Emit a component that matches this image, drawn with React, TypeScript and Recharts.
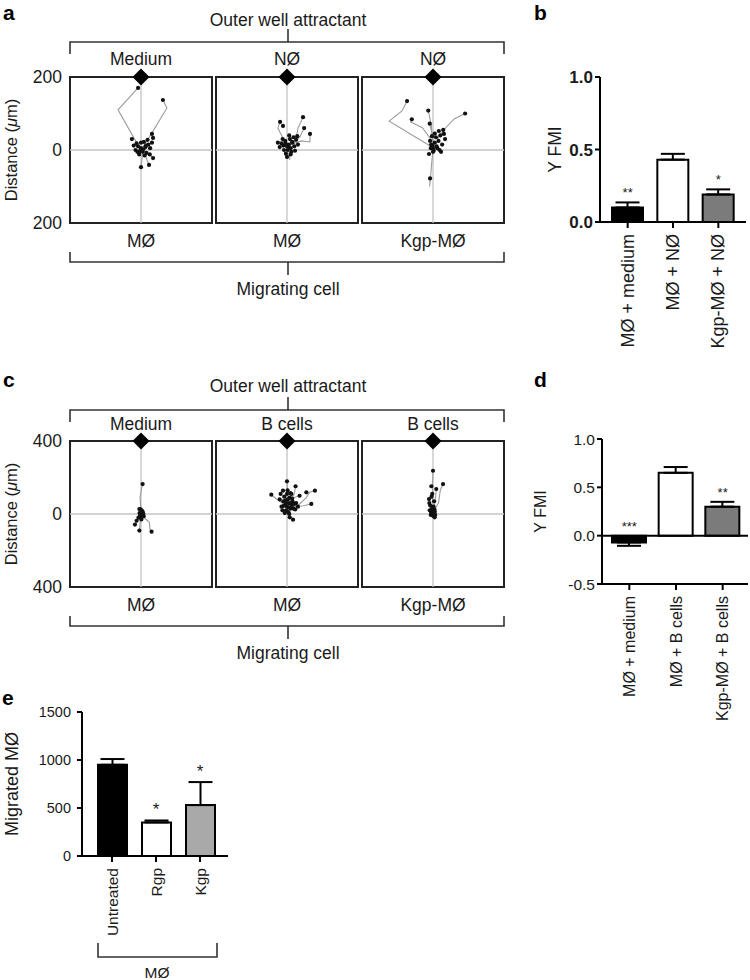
import React from "react";
import {
  ScatterChart, Scatter, ComposedChart, Bar, ErrorBar, Cell,
  XAxis, YAxis, ReferenceLine, ReferenceArea, ReferenceDot,
} from "recharts";

const FONT = '"Liberation Sans", Arial, Helvetica, sans-serif';
const INK = "#1a1a1a";

type Pt = [number, number];

// ---------- track data (µm), panel a: distance scale 200 ----------
const A1_TRACKS: Pt[][] = [
  [[0, 0], [-16, 27], [-63, 110], [-8, 170]],
  [[0, 0], [30, 47], [71, 115], [60, 137]],
  [[5, -5], [0, -47]],
  [[10, -10], [22, -41]],
  [[15, -5], [33, -22]],
];
const A1_DOTS: Pt[] = [
  [-8, 170], [60, 137], [0, 5], [-8, 10], [5, -5], [12, 8], [-15, 0], [20, 15], [8, 22], [-5, -12],
  [15, -8], [25, 5], [-20, 12], [0, 20], [10, -15], [-10, -5], [30, 20], [18, 28], [-25, 30], [33, 33],
  [30, 44], [0, -47], [22, -41], [33, -22], [-3, -3], [6, 2], [-12, 18], [24, -12], [14, 12],
];
const A2_TRACKS: Pt[][] = [
  [[0, 10], [25, 30], [30, 60], [44, 90]],
  [[0, 10], [-10, 30], [-25, 60], [-19, 77]],
  [[5, 10], [35, 35], [47, 60]],
  [[10, 15], [40, 25], [63, 22], [63, 44]],
  [[4, 5], [8, -27]],
];
const A2_DOTS: Pt[] = [
  [44, 90], [-19, 77], [47, 60], [63, 44], [-11, 66], [0, 10], [5, 15], [-10, 12], [10, 5], [15, 20],
  [-5, 25], [20, 10], [-15, 18], [8, 30], [25, 28], [-20, 8], [2, 0], [12, -5], [-8, 0], [18, 35],
  [30, 15], [-3, -10], [0, -19], [22, -2], [-12, 30], [6, 40], [28, 38], [-25, 20], [14, 22], [4, 8],
  [-4, 18], [10, -12],
];
const A3_TRACKS: Pt[][] = [
  [[-3, 8], [-120, 79], [-85, 107], [-71, 134]],
  [[1, 20], [-29, 61], [-61, 77], [-58, 84]],
  [[11, 30], [35, 61], [58, 85], [88, 100]],
  [[0, 20], [-5, 70], [-13, 108]],
  [[0, 0], [-4, -40], [-9, -100], [-8, -78]],
  [[5, 10], [-9, 72]],
];
const A3_DOTS: Pt[] = [
  [-71, 134], [-58, 84], [88, 100], [-13, 108], [-9, 72], [-8, -78], [-11, -11], [22, -5], [16, 52],
  [30, 44], [33, 30], [-3, 38], [5, 20], [10, 10], [0, 5], [-5, 15], [15, 25], [20, 40], [25, 15],
  [8, 35], [-8, 25], [12, 5], [0, -5], [18, 0], [5, 45], [28, 55], [-6, 5], [2, -2], [-2, 12],
];

// ---------- panel c: distance scale 400 ----------
const C1_TRACKS: Pt[][] = [
  [[0, 10], [-5, 91], [5, 150], [9, 164]],
  [[13, -18], [46, -46], [49, -82], [58, -97]],
  [[0, 0], [-20, -30], [-33, -58]],
  [[0, -5], [-9, -91]],
];
const C1_DOTS: Pt[] = [
  [9, 164], [58, -97], [-33, -58], [-9, -91], [-24, -37], [0, 0], [5, 10], [-8, 5], [10, -5], [3, 20],
  [-5, -10], [8, 15], [12, 3], [-2, 25], [6, -15], [-9, 27], [-14, -20], [2, -30], [15, -12],
];
const C2_TRACKS: Pt[][] = [
  [[20, 30], [69, 55], [106, 90], [124, 119], [153, 128]],
  [[0, 40], [-40, 70], [-80, 100], [-86, 106]],
  [[30, 40], [90, 45], [133, 55]],
  [[10, 50], [40, 90], [69, 100]],
  [[0, 60], [2, 130], [0, 179]],
  [[15, 60], [40, 110], [47, 152]],
];
const C2_DOTS: Pt[] = [
  [153, 128], [-86, 106], [133, 55], [69, 100], [0, 179], [47, 152], [106, 119], [-22, 128], [24, 110],
  [15, -18], [33, -31], [0, 40], [10, 60], [-10, 50], [20, 30], [-20, 70], [5, 80], [30, 70], [-30, 40],
  [15, 90], [-5, 20], [25, 45], [40, 55], [-15, 95], [8, 10], [-8, 75], [35, 30], [50, 60], [18, 115],
  [-40, 80], [0, 110], [28, 85], [-25, 20], [45, 25], [12, 0], [-12, 5], [60, 40], [3, 130], [-35, 110],
  [10, 35], [-5, 60], [22, 55], [-18, 45],
];
const C3_TRACKS: Pt[][] = [
  [[0, 20], [-3, 150], [0, 237]],
  [[5, 20], [30, 60], [40, 130], [55, 164]],
  [[0, 15], [12, 70], [18, 137]],
];
const C3_DOTS: Pt[] = [
  [0, 237], [55, 164], [-9, 152], [18, 137], [-4, 110], [-22, 82], [-15, 46], [0, 18], [-18, 20], [5, 5],
  [-10, 10], [8, 25], [0, -10], [9, -18], [-5, 30], [10, 12], [-12, -5], [3, 40], [-20, 60], [6, 70],
  [-8, 95], [12, -5], [-3, 0],
];

const A_ATTRACT = ["Medium", "NØ", "NØ"];
const C_ATTRACT = ["Medium", "B cells", "B cells"];
const CELLS = ["MØ", "MØ", "Kgp-MØ"];

// ---------- bar data ----------
const B_GROUPS = ["MØ + medium", "MØ + NØ", "Kgp-MØ + NØ"];
const B_FMI = [0.1, 0.43, 0.19];
const B_SEM = [0.035, 0.04, 0.035];
const B_SIG = ["**", "", "*"];

const D_GROUPS = ["MØ + medium", "MØ + B cells", "Kgp-MØ + B cells"];
const D_FMI = [-0.07, 0.65, 0.3];
const D_SEM = [0.035, 0.06, 0.05];
const D_SIG = ["***", "", "**"];

const E_GROUPS = ["Untreated", "Rgp", "Kgp"];
const E_MIGRATED = [950, 350, 530];
const E_SEM = [60, 20, 240];
const E_SIG = ["", "*", "*"];

const FILL_BD = ["#000000", "#ffffff", "#7b7b7b"];
const FILL_E = ["#000000", "#ffffff", "#a9a9a9"];

const toXY = (pts: Pt[]) => pts.map(([x, y]) => ({ x, y }));

const BOX_W = 142;
const BOX_H = 146;
const BOX_LEFT = [70, 216, 362];
const ANNOT = 17.5;

function diamond(props: any) {
  const { cx, cy } = props;
  const r = 8.5;
  return <polygon points={`${cx},${cy - r} ${cx + r},${cy} ${cx},${cy + r} ${cx - r},${cy}`} fill="#000" />;
}

function endDot(props: any) {
  return <circle cx={props.cx} cy={props.cy} r={2.1} fill="#111" />;
}

function distanceLabel(props: any) {
  const vb = props.viewBox;
  const cx = vb.x + 11;
  const cy = vb.y + vb.height / 2;
  return (
    <text x={cx} y={cy} transform={`rotate(-90 ${cx} ${cy})`} textAnchor="middle" dominantBaseline="central"
      fontSize={16.5} fontFamily={FONT} fill={INK}>
      Distance (<tspan fontStyle="italic">μ</tspan>m)
    </text>
  );
}

function TrackBox({ tracks, dots, yMax, left, top, axis }: {
  tracks: Pt[][]; dots: Pt[]; yMax: number; left: number; top: number; axis: boolean;
}) {
  const axisW = axis ? 70 : 0;
  const margin = { top: 12, right: 2, bottom: 12, left: axis ? 0 : 2 };
  const xMax = (yMax * BOX_W) / BOX_H;
  return (
    <div style={{ position: "absolute", left: left - axisW - margin.left, top: top - margin.top }}>
      <ScatterChart width={axisW + BOX_W + margin.left + margin.right} height={BOX_H + margin.top + margin.bottom} margin={margin}>
        <XAxis type="number" dataKey="x" domain={[-xMax, xMax]} hide allowDataOverflow />
        <YAxis type="number" dataKey="y" domain={[-yMax, yMax]} hide={!axis} width={70} allowDataOverflow
          ticks={[-yMax, 0, yMax]} interval={0} tickFormatter={(v: number) => String(Math.abs(v))}
          axisLine={false} tickLine={false} tick={{ fontSize: ANNOT, fill: INK, fontFamily: FONT }}
          label={axis ? distanceLabel : undefined} />
        <ReferenceLine x={0} stroke="#c4c4c4" strokeWidth={1.3} />
        <ReferenceLine y={0} stroke="#c4c4c4" strokeWidth={1.3} />
        {tracks.map((t, i) => (
          <Scatter key={i} data={toXY(t)} line={{ stroke: "#9c9c9c", strokeWidth: 1.1 }} lineType="joint"
            shape={() => <g />} isAnimationActive={false} />
        ))}
        <Scatter data={toXY(dots)} shape={endDot} isAnimationActive={false} />
        <ReferenceArea x1={-xMax} x2={xMax} y1={-yMax} y2={yMax} fill="none" fillOpacity={0} stroke="#222" strokeWidth={2} ifOverflow="visible" />
        <ReferenceDot x={0} y={yMax} r={8} shape={diamond} ifOverflow="visible" />
      </ScatterChart>
    </div>
  );
}

function rotTick(fontSize: number) {
  return (props: any) => {
    const { x, y, payload } = props;
    const ty = y + 4;
    return (
      <text x={x} y={ty} transform={`rotate(-90 ${x} ${ty})`} textAnchor="end" dominantBaseline="central"
        fontSize={fontSize} fontFamily={FONT} fill={INK}>
        {payload.value}
      </text>
    );
  };
}

function yLabel(text: React.ReactNode, dx: number, fontSize: number) {
  return (props: any) => {
    const vb = props.viewBox;
    const cx = vb.x + dx;
    const cy = vb.y + vb.height / 2;
    return (
      <text x={cx} y={cy} transform={`rotate(-90 ${cx} ${cy})`} textAnchor="middle" dominantBaseline="central"
        fontSize={fontSize} fontFamily={FONT} fill={INK}>
        {text}
      </text>
    );
  };
}

function starShape(fontSize: number) {
  return (props: any) => (
    <text x={props.cx} y={props.cy - 5} textAnchor="middle" fontSize={fontSize} fontFamily={FONT} fill={INK}>
      {props.payload.sig}
    </text>
  );
}

function BarPanel({
  left, top, axisW, plotW, height, plotH, groups, values, sems, sigs, fills, domain, ticks, fmt,
  tickFont, boldTicks, tickMargin, catFont, label, labelDx, labelFont, padding, barSize, zero, starFont,
}: any) {
  const rows = groups.map((name: string, i: number) => {
    const v = values[i];
    const s = sems[i];
    return {
      name,
      v,
      err: v < 0 ? [s, 0] : [0, s],
      starY: Math.max(0, v < 0 ? 0 : v + s),
      sig: sigs[i],
    };
  });
  const margin = { top: 10, right: 2, bottom: 0, left: 0 };
  return (
    <div style={{ position: "absolute", left: left - axisW, top: top - margin.top }}>
      <ComposedChart width={axisW + plotW + margin.right} height={height} data={rows} margin={margin}>
        <XAxis dataKey="name" type="category" interval={0} padding={padding} tick={rotTick(catFont)}
          height={height - margin.top - plotH} tickSize={6}
          axisLine={{ stroke: "#000", strokeWidth: 2 }} tickLine={{ stroke: "#000", strokeWidth: 2 }} />
        <YAxis type="number" domain={domain} ticks={ticks} interval={0} width={axisW} tickFormatter={fmt}
          tickSize={5} tickMargin={tickMargin}
          axisLine={{ stroke: "#000", strokeWidth: 2 }} tickLine={{ stroke: "#000", strokeWidth: 2 }}
          tick={{ fontSize: tickFont, fill: INK, fontFamily: FONT, fontWeight: boldTicks ? "bold" : "normal" }}
          label={yLabel(label, labelDx, labelFont)} />
        {zero ? <ReferenceLine y={0} stroke="#000" strokeWidth={2} /> : null}
        <Bar dataKey="v" barSize={barSize} stroke="#000" strokeWidth={2} isAnimationActive={false}>
          {rows.map((_: any, i: number) => (
            <Cell key={i} fill={fills[i]} />
          ))}
          <ErrorBar dataKey="err" width={12} stroke="#000" strokeWidth={2} />
        </Bar>
        <Scatter dataKey="starY" shape={starShape(starFont)} isAnimationActive={false} />
      </ComposedChart>
    </div>
  );
}

function Bracket({ x1, x2, y, end, tickTo }: { x1: number; x2: number; y: number; end: number; tickTo: number }) {
  const xc = (x1 + x2) / 2 + 1;
  return (
    <g stroke="#333" strokeWidth={1.6} fill="none">
      <path d={`M${x1} ${end} V${y} H${x2} V${end}`} />
      <path d={`M${xc} ${y} V${tickTo}`} />
    </g>
  );
}

function TrackAnnotations({ attract, head, topB, condY, cellY, botB, migY }: any) {
  return (
    <g fontFamily={FONT} fontSize={ANNOT} fill={INK} textAnchor="middle">
      <text x={288} y={head}>Outer well attractant</text>
      <Bracket x1={70} x2={504} y={topB} end={topB + 12} tickTo={topB - 13} />
      {attract.map((t: string, i: number) => (
        <text key={"a" + i} x={BOX_LEFT[i] + BOX_W / 2} y={condY}>{t}</text>
      ))}
      {CELLS.map((t: string, i: number) => (
        <text key={"c" + i} x={BOX_LEFT[i] + BOX_W / 2} y={cellY}>{t}</text>
      ))}
      <Bracket x1={70} x2={504} y={botB} end={botB - 10} tickTo={botB + 13} />
      <text x={288} y={migY}>Migrating cell</text>
    </g>
  );
}

export default function App() {
  const aTop = 77;
  const cTop = 441;
  return (
    <div style={{ position: "absolute", left: 0, top: 0, width: 750, height: 980, background: "#fff", fontFamily: FONT }}>
      {/* panel a */}
      <TrackBox tracks={A1_TRACKS} dots={A1_DOTS} yMax={200} left={BOX_LEFT[0]} top={aTop} axis />
      <TrackBox tracks={A2_TRACKS} dots={A2_DOTS} yMax={200} left={BOX_LEFT[1]} top={aTop} axis={false} />
      <TrackBox tracks={A3_TRACKS} dots={A3_DOTS} yMax={200} left={BOX_LEFT[2]} top={aTop} axis={false} />

      {/* panel c */}
      <TrackBox tracks={C1_TRACKS} dots={C1_DOTS} yMax={400} left={BOX_LEFT[0]} top={cTop} axis />
      <TrackBox tracks={C2_TRACKS} dots={C2_DOTS} yMax={400} left={BOX_LEFT[1]} top={cTop} axis={false} />
      <TrackBox tracks={C3_TRACKS} dots={C3_DOTS} yMax={400} left={BOX_LEFT[2]} top={cTop} axis={false} />

      {/* panel b */}
      <BarPanel left={600} top={77} axisW={60} plotW={146} height={300} plotH={145}
        groups={B_GROUPS} values={B_FMI} sems={B_SEM} sigs={B_SIG} fills={FILL_BD}
        domain={[0, 1]} ticks={[0, 0.5, 1]} fmt={(v: number) => v.toFixed(1)} tickFont={17} boldTicks tickMargin={2} catFont={18}
        label="Y FMI" labelDx={15} labelFont={17.5} padding={{ left: 5, right: 5 }} barSize={31} zero={false} starFont={13} />

      {/* panel d */}
      <BarPanel left={602} top={439} axisW={70} plotW={146} height={320} plotH={145}
        groups={D_GROUPS} values={D_FMI} sems={D_SEM} sigs={D_SIG} fills={FILL_BD}
        domain={[-0.5, 1]} ticks={[-0.5, 0, 0.5, 1]} fmt={(v: number) => v.toFixed(1)} tickFont={15.5} boldTicks={false} tickMargin={2} catFont={16}
        label="Y FMI" labelDx={8} labelFont={16} padding={{ left: 4, right: 2 }} barSize={34} zero starFont={13} />

      {/* panel e */}
      <BarPanel left={82} top={712} axisW={82} plotW={146} height={250} plotH={144}
        groups={E_GROUPS} values={E_MIGRATED} sems={E_SEM} sigs={E_SIG} fills={FILL_E}
        domain={[0, 1500]} ticks={[0, 500, 1000, 1500]} fmt={(v: number) => String(v)} tickFont={14.5} boldTicks={false} tickMargin={6} catFont={15.5}
        label="Migrated MØ" labelDx={12} labelFont={18} padding={{ left: 8, right: 6 }} barSize={29} zero={false} starFont={17} />

      <svg width={750} height={980} style={{ position: "absolute", left: 0, top: 0, pointerEvents: "none" }}>
        <g fontFamily={FONT} fontWeight="bold" fontSize={21} fill="#000">
          <text x={3} y={20}>a</text>
          <text x={534} y={20}>b</text>
          <text x={3} y={387}>c</text>
          <text x={534} y={387}>d</text>
          <text x={2} y={705}>e</text>
        </g>
        <TrackAnnotations attract={A_ATTRACT} head={26} topB={42} condY={65} cellY={247} botB={262} migY={295} />
        <TrackAnnotations attract={C_ATTRACT} head={392} topB={410} condY={430} cellY={611} botB={626} migY={659} />
        <Bracket x1={98} x2={217} y={957} end={943} tickTo={957} />
        <text x={157} y={978} textAnchor="middle" fontFamily={FONT} fontSize={15.5} fill={INK}>MØ</text>
      </svg>
    </div>
  );
}
